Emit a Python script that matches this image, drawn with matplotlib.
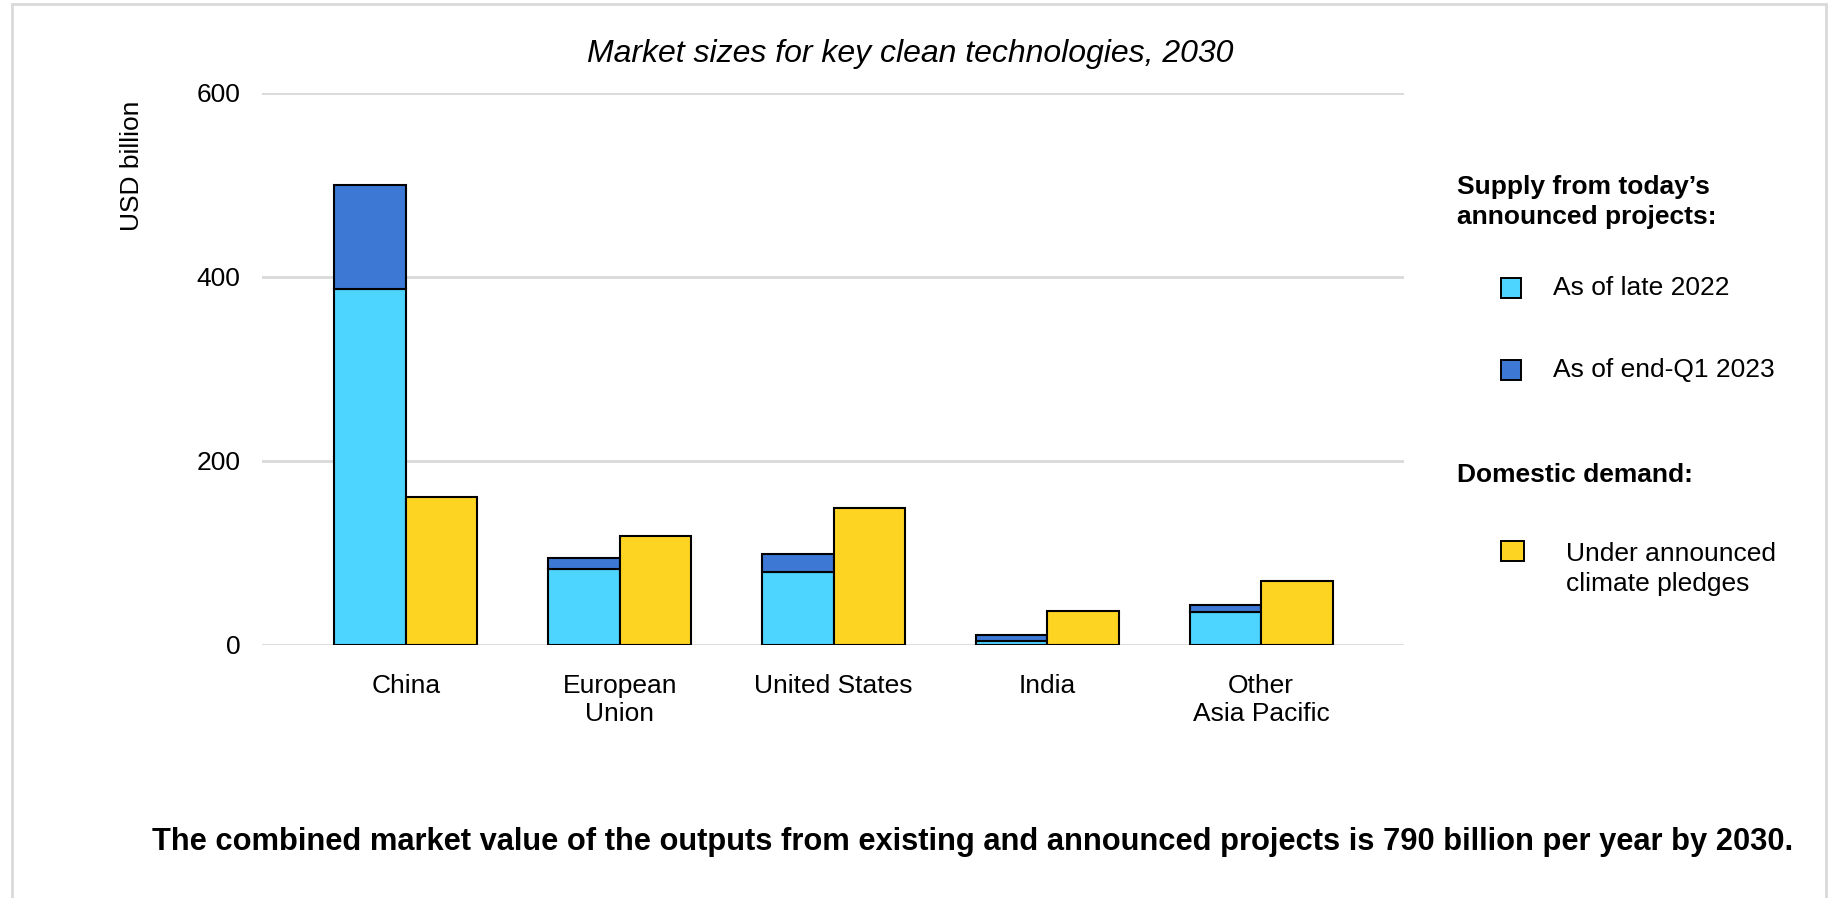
import matplotlib
matplotlib.use("Agg")
import matplotlib.pyplot as plt
from matplotlib.patches import Rectangle
import numpy as np

plt.rcParams["font.family"] = ["Liberation Sans", "DejaVu Sans"]

# Data (USD billion, 2030)
regions = ["China", "European\nUnion", "United States", "India", "Other\nAsia Pacific"]
supply_late_2022 = [387, 82, 79, 4, 36]
supply_added_q1_2023 = [113, 13, 20, 7, 7]
domestic_demand = [161, 118, 149, 37, 70]

yticks = [0, 200, 400, 600]

c_late = "#4DD5FF"
c_q1 = "#3C78D4"
c_demand = "#FDD422"

fig = plt.figure(figsize=(18.35, 8.98), dpi=100)
ax = fig.add_axes([262 / 1835, 1 - 645 / 898, (1404 - 262) / 1835, (645 - 92.5) / 898])

x = np.arange(len(regions))
w = 0.334
edge = dict(edgecolor="black", linewidth=1.5)
ax.bar(x - w / 2, supply_late_2022, w, color=c_late, zorder=3, **edge)
ax.bar(x - w / 2, supply_added_q1_2023, w, bottom=supply_late_2022, color=c_q1, zorder=3, **edge)
ax.bar(x + w / 2, domestic_demand, w, color=c_demand, zorder=3, **edge)

ax.set_xlim(-0.673, 4.668)
ax.set_ylim(0, 600)
ax.set_yticks(yticks)
ax.yaxis.grid(True, color="#D9D9D9", linewidth=2, zorder=0)
ax.set_xticks(x)
ax.set_xticklabels(regions, fontsize=19, linespacing=1.2)
ax.tick_params(axis="y", labelsize=19, length=0, pad=15.5)
ax.tick_params(axis="x", length=0, pad=21)
for s in ax.spines.values():
    s.set_visible(False)


def fx(px):
    return px / 1835


def fy(py):
    return 1 - py / 898


fig.text(fx(132), fy(166), "USD billion", rotation=90, fontsize=19,
         ha="center", va="center")
fig.text(fx(910), fy(54), "Market sizes for key clean technologies, 2030",
         fontsize=23, style="italic", ha="center", va="center")

# Legend drawn by hand
fig.text(fx(1457), fy(202), "Supply from today\u2019s\nannounced projects:", fontsize=19,
         fontweight="bold", ha="left", va="center", linespacing=1.3)
fig.text(fx(1457), fy(475), "Domestic demand:", fontsize=19, fontweight="bold",
         ha="left", va="center")
legend_items = [
    (288, c_late, "As of late 2022", 1553, 20),
    (370, c_q1, "As of end-Q1 2023", 1553, 20),
    (569, c_demand, "Under announced\nclimate pledges", 1566, 23),
]
for py, col, label, tx, sw in legend_items:
    sy = 551 if "\n" in label else py
    fig.patches.append(Rectangle((fx(1501), fy(sy + 10)), sw / 1835, 20 / 898,
                                 transform=fig.transFigure, facecolor=col,
                                 edgecolor="black", linewidth=1.4))
    fig.text(fx(tx), fy(py), label, fontsize=19, ha="left", va="center", linespacing=1.35)

fig.text(fx(973), fy(842),
         "The combined market value of the outputs from existing and announced projects is 790 billion per year by 2030.",
         fontsize=22.2, fontweight="bold", ha="center", va="center")

# light frame around the figure
fig.patches.append(Rectangle((fx(12), -0.01), (1826 - 12) / 1835, 1 - 4 / 898 + 0.01,
                             transform=fig.transFigure, fill=False,
                             edgecolor="#D9D9D9", linewidth=2))

fig.savefig("out.png", dpi=100)
